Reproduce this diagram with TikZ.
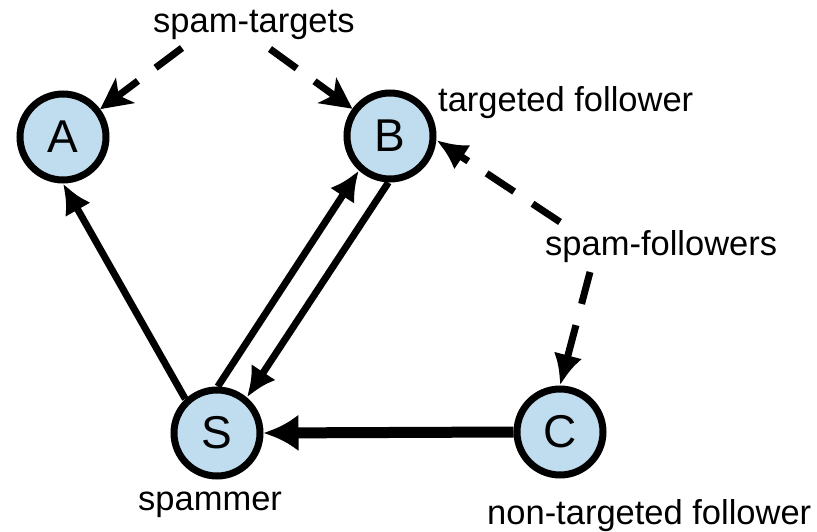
\documentclass[tikz,border=0pt]{standalone}
\usepackage{fontspec}
\setmainfont{Liberation Sans}
\usetikzlibrary{arrows.meta}

\definecolor{nodeblue}{RGB}{192,221,239}

\tikzset{
  vertex/.style={circle, draw=black, fill=nodeblue, line width=7pt,
    minimum size=86pt, inner sep=0pt,
    font=\fontsize{46}{50}\selectfont},
  lbl/.style={inner sep=0pt, anchor=base west,
    font=\fontsize{34.5}{40}\selectfont},
  solidarrow/.style={line width=7pt, -{Latex[length=30pt,width=29pt]}},
  heavyarrow/.style={line width=11pt, -{Latex[length=35pt,width=37pt]}},
  dasharrow/.style={line width=7pt, dash pattern=on 33pt off 22pt,
    -{Latex[length=31pt,width=29pt]}},
  notcharrow/.style={line width=7pt, dash pattern=on 33pt off 22pt,
    -{Stealth[length=31pt,width=31pt,inset=8pt]}}
}

\begin{document}
\begin{tikzpicture}[x=1pt,y=-1pt]
  \useasboundingbox (0,0) rectangle (817,532);

  % vertices
  \node[vertex] (A) at (63,137) {A};
  \node[vertex] (B) at (390,136) {B};
  \node[vertex] (S) at (217,433) {S};
  \node[vertex] (C) at (560,432) {C};

  % labels
  \node[lbl] (ltargets)   at (153,33)  {spam-targets};
  \node[lbl] (ltargeted)  at (438,112) {targeted follower};
  \node[lbl] (lfollowers) at (545,255) {spam-followers};
  \node[lbl] (lspammer)   at (138,510) {spammer};
  \node[lbl] (lnontarget) at (487,524) {non-targeted follower};

  % starting points of the dashed annotation arrows
  \coordinate (tA) at (182,48);
  \coordinate (tB) at (270,49);
  \coordinate (fB) at (560,222);
  \coordinate (fC) at (590,272);

  % follow relations
  \draw[solidarrow] (S.133) -- (A.270);
  \draw[solidarrow] (S.89) -- (B.228);
  \draw[solidarrow] (B.268) -- (S.50);
  \draw[heavyarrow] (C.west) -- (S.east);

  % annotation arrows
  \draw[notcharrow] (tA) -- (A);
  \draw[notcharrow] (tB) -- (B);
  \draw[dasharrow] (fB) -- (B.-5);
  \draw[dasharrow] (fC) -- (C.north);
\end{tikzpicture}
\end{document}
